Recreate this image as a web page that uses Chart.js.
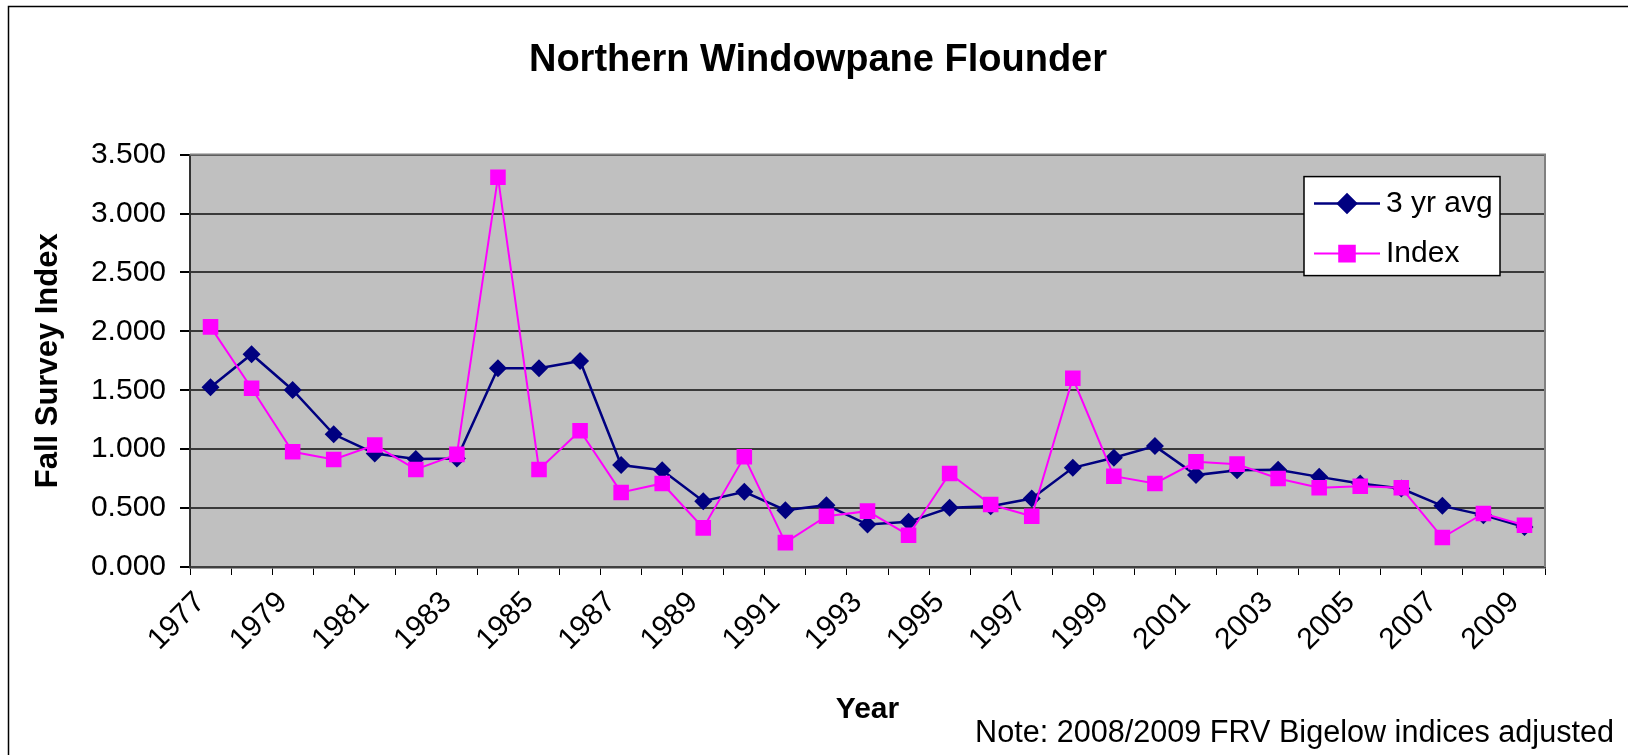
<!DOCTYPE html>
<html>
<head>
<meta charset="utf-8">
<script src="https://cdn.jsdelivr.net/npm/chart.js@4.4.1/dist/chart.umd.min.js"></script>
<style>
  html, body { margin: 0; padding: 0; background: #fff; }
  #wrap { width: 1628px; height: 755px; }
</style>
</head>
<body>
<div id="wrap"><canvas id="flounderChart" width="1628" height="755"></canvas></div>
<script>
const years = [1977, 1978, 1979, 1980, 1981, 1982, 1983, 1984, 1985, 1986, 1987,
    1988, 1989, 1990, 1991, 1992, 1993, 1994, 1995, 1996, 1997, 1998, 1999,
    2000, 2001, 2002, 2003, 2004, 2005, 2006, 2007, 2008, 2009];
const avg3yr = [1.525, 1.806, 1.502, 1.126, 0.964, 0.916, 0.921, 1.687, 1.687, 1.749, 0.865,
    0.822, 0.559, 0.638, 0.482, 0.525, 0.360, 0.383, 0.502, 0.516, 0.581, 0.842, 0.927,
    1.026, 0.780, 0.822, 0.826, 0.765, 0.709, 0.666, 0.519, 0.440, 0.340];
const surveyIndex = [2.038, 1.517, 0.978, 0.913, 1.035, 0.828, 0.956, 3.308, 0.828, 1.157, 0.633,
    0.709, 0.332, 0.935, 0.207, 0.431, 0.474, 0.270, 0.794, 0.530, 0.431, 1.602, 0.771,
    0.709, 0.893, 0.873, 0.751, 0.672, 0.686, 0.672, 0.250, 0.454, 0.354];
const seriesNames = ['3 yr avg', 'Index'];
const yTicks = [0, 0.5, 1, 1.5, 2, 2.5, 3, 3.5];
const noteText = 'Note: 2008/2009 FRV Bigelow indices adjusted';

const FONT = "'Liberation Sans', Arial, sans-serif";

// white page, outer frame, grey plot background
const backdrop = {
    id: 'backdrop',
    beforeDraw(chart) {
        const { ctx, chartArea: a } = chart;
        ctx.save();
        ctx.fillStyle = '#fff';
        ctx.fillRect(0, 0, chart.width, chart.height);
        ctx.strokeStyle = '#000';
        ctx.lineWidth = 1.5;
        ctx.strokeRect(8.5, 6.5, chart.width + 20, chart.height + 20);
        ctx.fillStyle = '#c0c0c0';
        ctx.fillRect(a.left, a.top, a.right - a.left, a.bottom - a.top);
        ctx.restore();
    },
    beforeDatasetsDraw(chart) {
        const { ctx, chartArea: a } = chart;
        ctx.save();
        ctx.strokeStyle = '#808080';
        ctx.lineWidth = 2;
        ctx.beginPath();
        ctx.moveTo(a.left, a.top);
        ctx.lineTo(a.right, a.top);
        ctx.lineTo(a.right, a.bottom);
        ctx.stroke();
        ctx.restore();
    }
};

// boxed legend inside the plot + the note line
const boxLegend = {
    id: 'boxLegend',
    afterDraw(chart) {
        const { ctx, chartArea: a } = chart;
        const w = 196, h = 99;
        const x = a.right - 45 - w, y = a.top + 22;
        ctx.save();
        ctx.fillStyle = '#fff';
        ctx.fillRect(x, y, w, h);
        ctx.strokeStyle = '#000';
        ctx.lineWidth = 1.5;
        ctx.strokeRect(x, y, w, h);
        const rows = [chart.data.datasets[1], chart.data.datasets[0]];
        rows.forEach((ds, i) => {
            const cy = y + 27 + i * 50;
            ctx.strokeStyle = ds.borderColor;
            ctx.lineWidth = ds.borderWidth;
            ctx.beginPath();
            ctx.moveTo(x + 10, cy);
            ctx.lineTo(x + 76, cy);
            ctx.stroke();
            Chart.helpers.drawPoint(ctx, {
                pointStyle: ds.pointStyle,
                radius: ds.pointRadius,
                borderWidth: 1
            }, x + 43, cy);
            ctx.fillStyle = ds.pointBackgroundColor;
            ctx.fill();
            ctx.fillStyle = '#000';
            ctx.font = '30px ' + FONT;
            ctx.textBaseline = 'middle';
            ctx.textAlign = 'left';
            ctx.fillText(ds.label, x + 82, cy);
        });
        ctx.font = '30.6px ' + FONT;
        ctx.textAlign = 'right';
        ctx.textBaseline = 'alphabetic';
        ctx.fillText(noteText, 1614, 742);
        ctx.restore();
    }
};

const ctx = document.getElementById('flounderChart').getContext('2d');
new Chart(ctx, {
    type: 'line',
    data: {
        labels: years.map(String),
        datasets: [{
            label: seriesNames[1],
            data: surveyIndex,
            order: 0,
            borderColor: '#ff00ff',
            backgroundColor: '#ff00ff',
            borderWidth: 2,
            pointStyle: 'rect',
            pointRadius: 11,
            pointBackgroundColor: '#ff00ff',
            pointBorderColor: '#ff00ff',
            pointBorderWidth: 0,
            tension: 0
        }, {
            label: seriesNames[0],
            data: avg3yr,
            order: 1,
            borderColor: '#000080',
            backgroundColor: '#000080',
            borderWidth: 2.5,
            pointStyle: 'rectRot',
            pointRadius: 9,
            pointBackgroundColor: '#000080',
            pointBorderColor: '#000080',
            pointBorderWidth: 0,
            tension: 0
        }]
    },
    options: {
        responsive: false,
        animation: false,
        layout: { padding: { left: 8, right: 0, top: 0, bottom: 0 } },
        plugins: {
            legend: { display: false },
            tooltip: { enabled: false },
            title: {
                display: true,
                text: 'Northern Windowpane Flounder',
                color: '#000',
                font: { family: FONT, size: 38, weight: 'bold' },
                padding: { top: 38, bottom: 71 }
            }
        },
        scales: {
            x: {
                offset: true,
                afterFit: s => { s.height = 188; },
                grid: {
                    display: true,
                    offset: true,
                    drawOnChartArea: false,
                    drawTicks: true,
                    tickLength: 8,
                    tickColor: '#000',
                    tickWidth: 1
                },
                border: { display: true, color: '#404040', width: 2.5 },
                ticks: {
                    autoSkip: false,
                    minRotation: 45,
                    maxRotation: 45,
                    color: '#000',
                    padding: 10,
                    labelOffset: -10,
                    font: { family: FONT, size: 30 },
                    callback: function (v, i) { return i % 2 === 0 ? this.getLabelForValue(v) : ''; }
                },
                title: {
                    display: true,
                    text: 'Year',
                    color: '#000',
                    font: { family: FONT, size: 30, weight: 'bold' },
                    padding: { top: 0, bottom: 27 }
                }
            },
            y: {
                min: 0,
                max: 3.5,
                afterFit: s => { s.width = 182; },
                afterBuildTicks: s => { s.ticks = yTicks.map(v => ({ value: v })); },
                grid: {
                    color: '#3a3a3a',
                    lineWidth: 2,
                    tickLength: 10,
                    tickColor: '#000'
                },
                border: { display: true, color: '#333', width: 2 },
                ticks: {
                    color: '#000',
                    padding: 14,
                    font: { family: FONT, size: 30 },
                    callback: v => v.toFixed(3)
                },
                title: {
                    display: true,
                    text: 'Fall Survey Index',
                    color: '#000',
                    font: { family: FONT, size: 31, weight: 'bold' },
                    padding: { top: 22, bottom: 0 }
                }
            },
            // empty right-hand box: keeps the plot's right edge where the reference has it
            spacer: {
                position: 'right',
                display: true,
                afterFit: s => { s.width = 83; },
                grid: { display: false },
                border: { display: false },
                ticks: { display: false }
            }
        }
    },
    plugins: [backdrop, boxLegend]
});
</script>
</body>
</html>
